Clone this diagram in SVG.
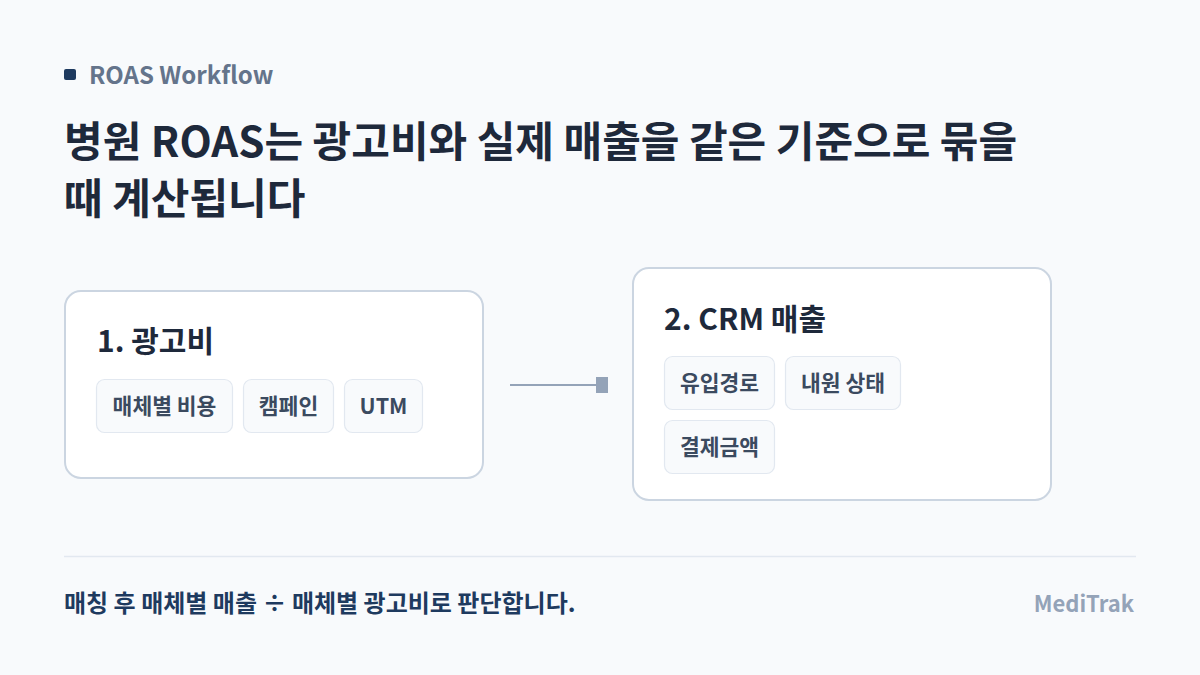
<svg xmlns="http://www.w3.org/2000/svg" width="1200" height="675" viewBox="0 0 1200 675">
<style>
text { font-family: "Noto Sans CJK KR", "Noto Sans", sans-serif; font-weight: 700; }
.card { fill: #ffffff; stroke: #cbd5e1; stroke-width: 2; }
.chip { fill: #f8fafc; stroke: #e2e8f0; stroke-width: 1.2; }
.chipt { font-size: 21.5px; fill: #3b4a5f; text-anchor: middle; }
.ctitle { font-size: 30px; fill: #1e293b; }
.title { font-size: 42px; fill: #1e293b; }
</style>
<rect width="1200" height="675" fill="#f8fafc"/>
<g id="header">
<rect x="64" y="69" width="12" height="11" rx="2" fill="#1e3a5f"/>
<text x="89" y="84" font-size="24" fill="#64748b">ROAS Workflow</text>
<text x="64" y="157" class="title">병원 ROAS는 광고비와 실제 매출을 같은 기준으로 묶을</text>
<text x="64" y="214" class="title">때 계산됩니다</text>
</g>
<g id="connectors">
<line x1="510" y1="385" x2="598" y2="385" stroke="#94a3b8" stroke-width="2"/>
<rect x="596" y="377" width="12" height="16" fill="#94a3b8"/>
</g>
<g id="node-ad-spend">
<rect class="card" x="65" y="291" width="418" height="187" rx="16"/>
<text x="97" y="352" class="ctitle">1. 광고비</text>
<rect class="chip" x="96.5" y="379.5" width="136" height="53" rx="8"/>
<text x="164.5" y="414" class="chipt">매체별 비용</text>
<rect class="chip" x="243.5" y="379.5" width="90" height="53" rx="8"/>
<text x="288.5" y="414" class="chipt">캠페인</text>
<rect class="chip" x="344.5" y="379.5" width="78" height="53" rx="8"/>
<text x="383.5" y="414" class="chipt">UTM</text>
</g>
<g id="node-crm-revenue">
<rect class="card" x="633" y="268" width="418" height="232" rx="16"/>
<text x="664" y="330" class="ctitle">2. CRM 매출</text>
<rect class="chip" x="664.5" y="356.5" width="110" height="53" rx="8"/>
<text x="719.5" y="391" class="chipt">유입경로</text>
<rect class="chip" x="785.5" y="356.5" width="115" height="53" rx="8"/>
<text x="843" y="391" class="chipt">내원 상태</text>
<rect class="chip" x="664.5" y="420.5" width="110" height="53" rx="8"/>
<text x="719.5" y="455" class="chipt">결제금액</text>
</g>
<g id="footer">
<line x1="64" y1="556.5" x2="1136" y2="556.5" stroke="#e2e8f0" stroke-width="1.5"/>
<text x="64" y="612" font-size="24" fill="#1e3a5f">매칭 후 매체별 매출 ÷ 매체별 광고비로 판단합니다.</text>
<text x="1134" y="612" font-size="22" fill="#94a3b8" text-anchor="end">MediTrak</text>
</g>
</svg>
